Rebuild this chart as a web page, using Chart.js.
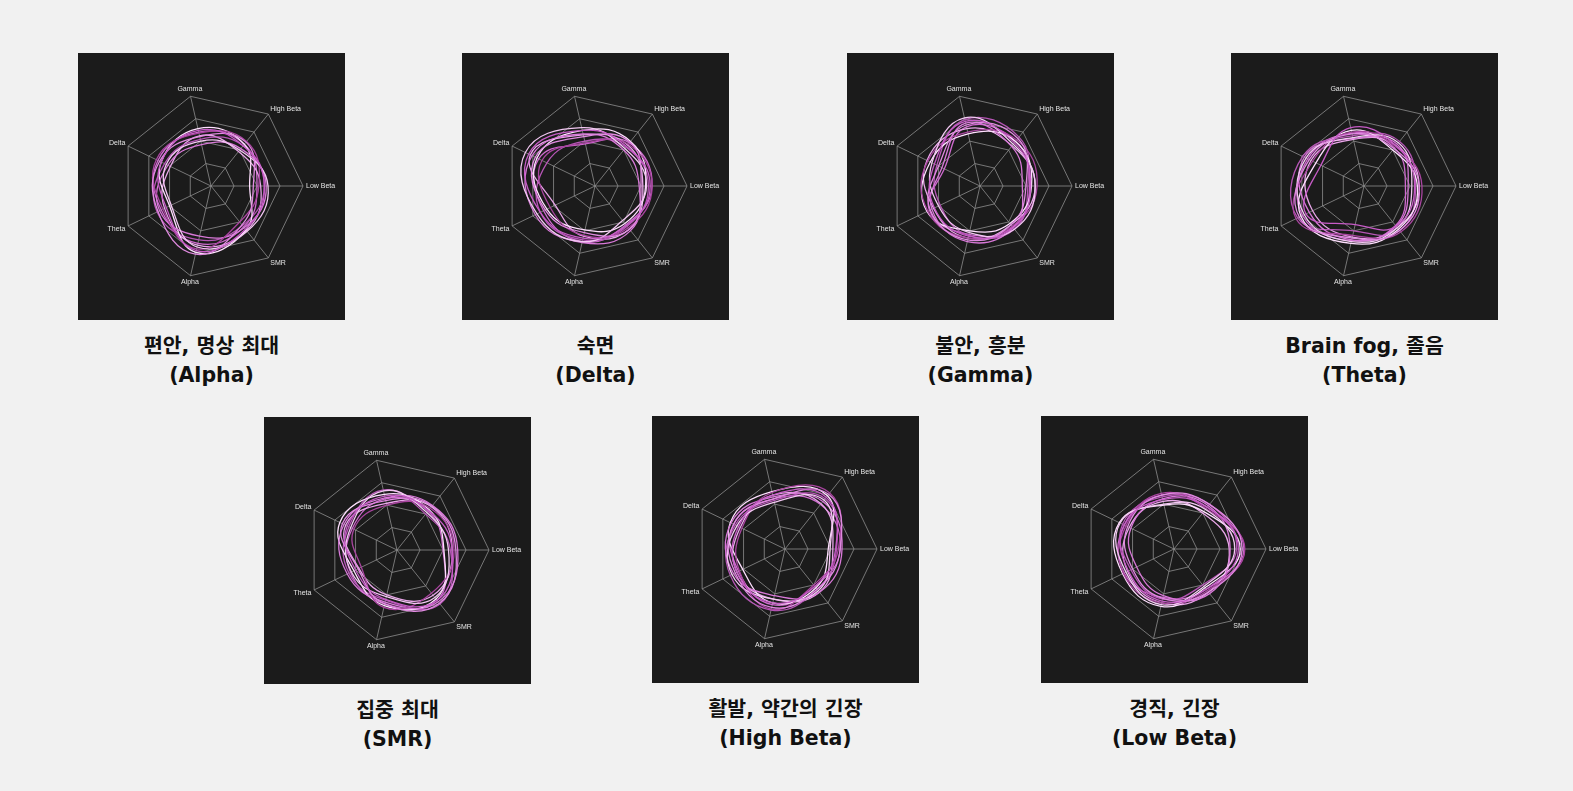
<!DOCTYPE html>
<html><head><meta charset="utf-8">
<script src="https://cdn.jsdelivr.net/npm/chart.js@4"></script>
<style>
html,body{margin:0;padding:0;background:#f1f1f1;width:1573px;height:791px;overflow:hidden;}
.box{position:absolute;width:267px;height:267px;background:#1b1b1b;}
.box canvas{display:block;}
.cap{position:absolute;width:360px;text-align:center;font-family:"DejaVu Sans","Noto Sans CJK KR",sans-serif;font-weight:700;font-size:20.5px;line-height:29px;color:#111;}
</style></head><body>
<script>
// axis labels (clockwise from top)
const axisLabels = ["Gamma","High Beta","Low Beta","SMR","Alpha","Theta","Delta"];
// chart titles
const titles = [
  ["편안, 명상 최대","(Alpha)"],
  ["숙면","(Delta)"],
  ["불안, 흥분","(Gamma)"],
  ["Brain fog, 졸음","(Theta)"],
  ["집중 최대","(SMR)"],
  ["활발, 약간의 긴장","(High Beta)"],
  ["경직, 긴장","(Low Beta)"]
];
// series values per chart (order: Gamma, High Beta, Low Beta, SMR, Alpha, Theta, Delta)
const alphaSeries = [
  [62,56,58,60,72,54,60],
  [55,61,46,54,76,64,62],
  [50,50,62,63,68,48,54],
  [59,62,52,50,70,58,66],
  [46,52,60,58,56,62,52],
  [64,58,42,61,74,50,60],
  [52,56,58,55,60,65,56],
  [56,48,54,62,66,56,49],
  [60,58,50,57,64,60,64]
];
const deltaSeries = [
  [62,55,60,55,58,66,80],
  [55,61,50,60,52,60,72],
  [65,52,56,48,62,70,84],
  [48,58,62,58,55,54,64],
  [58,50,48,62,63,72,76],
  [62,62,55,52,49,58,70],
  [50,54,58,56,60,66,58],
  [57,57,52,60,56,48,78],
  [47,60,62,54,62,62,68]
];
const gammaSeries = [
  [72,60,55,58,56,55,55],
  [68,66,50,54,60,60,50],
  [76,58,60,60,52,50,58],
  [60,64,62,56,58,63,63],
  [70,55,46,58,62,58,46],
  [58,62,56,52,50,64,60],
  [74,68,52,60,55,48,52],
  [64,56,60,54,58,56,64],
  [66,62,54,57,54,61,43]
];
const thetaSeries = [
  [65,56,55,56,43,70,52],
  [58,52,60,62,58,78,66],
  [54,60,52,58,62,72,70],
  [60,55,63,64,55,82,62],
  [53,58,48,56,60,66,72],
  [62,50,58,60,64,76,58],
  [56,62,56,62,50,80,74],
  [52,56,60,58,57,62,64],
  [59,53,45,55,61,74,68]
];
const smrSeries = [
  [60,55,60,70,55,50,60],
  [55,61,64,74,60,47,66],
  [66,52,56,66,52,55,56],
  [50,58,62,60,64,43,52],
  [58,62,66,72,58,60,64],
  [62,56,51,68,62,52,69],
  [67,50,58,75,56,58,58],
  [52,60,60,63,50,46,62],
  [57,54,50,70,60,56,54]
];
const highBetaSeries = [
  [60,72,55,52,60,58,56],
  [56,76,60,56,65,60,62],
  [52,68,49,58,56,64,58],
  [63,78,58,50,67,55,52],
  [58,66,62,60,52,62,65],
  [64,74,47,54,60,51,66],
  [54,70,56,56,68,66,60],
  [60,63,52,60,56,58,54],
  [56,62,60,52,62,56,62]
];
const lowBetaSeries = [
  [55,58,70,56,58,55,60],
  [60,62,74,60,55,50,56],
  [50,55,66,52,62,58,65],
  [62,56,77,58,60,61,58],
  [56,60,61,62,52,45,52],
  [49,52,72,54,64,62,66],
  [58,62,68,50,56,52,62],
  [53,50,60,60,60,56,54],
  [60,58,76,56,54,60,60]
];
const allSeries = [alphaSeries,deltaSeries,gammaSeries,thetaSeries,smrSeries,highBetaSeries,lowBetaSeries];
const lineColors = ["#c65bc6","#e08ae0","#f3c8f3","#a8449f","#d878d8","#ffe0ff","#b555b5","#e9a6e9","#cf6acf"];

const boxPos = [[78,53],[462,53],[847,53],[1231,53],[264,417],[652,416],[1041,416]];

// draws the scale's point labels at positions given by the radial scale
const axisLabelPlugin = {
  id:'axisLabelPlugin',
  afterDraw(chart){
    const s = chart.scales.r, ctx = chart.ctx;
    ctx.save();
    ctx.font = '7px "Liberation Sans", Arial, sans-serif';
    ctx.fillStyle = '#e4e4e4';
    ctx.textBaseline = 'middle';
    chart.data.labels.forEach((lab,i)=>{
      const p = s.getPointPosition(i, s.drawingArea + 3);
      const dx = Math.cos(p.angle), dy = Math.sin(p.angle);
      ctx.textAlign = dx > 0.3 ? 'left' : (dx < -0.3 ? 'right' : 'center');
      ctx.fillText(lab, p.x, p.y + dy*4);
    });
    ctx.restore();
  }
};

boxPos.forEach((p,i)=>{
  const d=document.createElement('div');d.className='box';d.style.left=p[0]+'px';d.style.top=p[1]+'px';
  const c=document.createElement('canvas');c.width=267;c.height=267;d.appendChild(c);document.body.appendChild(d);
  const cap=document.createElement('div');cap.className='cap';
  cap.style.left=(p[0]+133.5-180)+'px';cap.style.top=(p[1]+279)+'px';
  cap.innerHTML=titles[i][0]+'<br>'+titles[i][1];document.body.appendChild(cap);
  new Chart(c,{type:'radar',
    data:{labels:axisLabels,datasets:allSeries[i].map((s,k)=>({data:s,borderColor:lineColors[k%lineColors.length],borderWidth:1.3,pointRadius:0,fill:false,tension:0.45}))},
    options:{responsive:false,animation:false,devicePixelRatio:1,
      layout:{padding:41},
      plugins:{legend:{display:false},tooltip:{enabled:false}},
      scales:{r:{min:0,max:100,startAngle:-90/7,
        ticks:{display:false,stepSize:25},
        grid:{color:'rgba(150,150,150,0.75)',lineWidth:1},
        angleLines:{color:'rgba(150,150,150,0.75)',lineWidth:1},
        pointLabels:{display:false}
      }}},
    plugins:[axisLabelPlugin]
  });
});
</script>
</body></html>
